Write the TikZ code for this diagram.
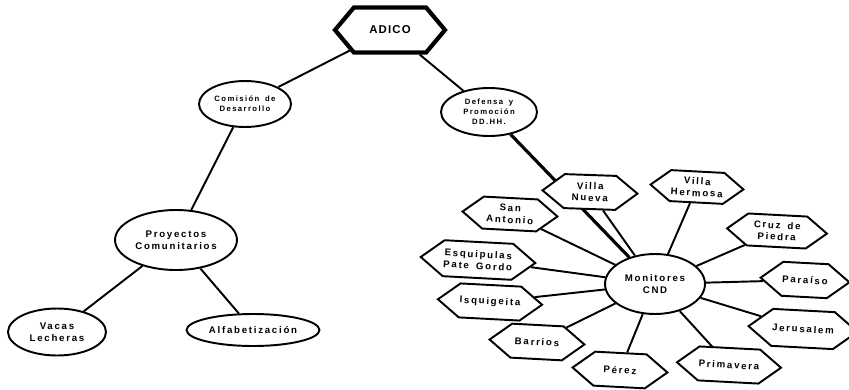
\documentclass[tikz,border=0pt]{standalone}
\usepackage{fontspec}
\newfontfamily\lblfont[LetterSpace=18,WordSpace=1.6]{Liberation Sans}
\newfontfamily\topfont[LetterSpace=10]{Liberation Sans}
\usepackage{tikz}
\usetikzlibrary{shapes.geometric,shapes.symbols,backgrounds}

\begin{document}
\begin{tikzpicture}[
    x=0.02cm, y=-0.02cm,
    every node/.style={align=center, inner sep=0pt},
    lbl/.style={font=\lblfont\bfseries\fontsize{5.5}{6.6}\selectfont},
    small/.style={font=\lblfont\bfseries\fontsize{4.4}{5.6}\selectfont},
    unit/.style={ellipse, draw, fill=white, line width=1.1pt, inner sep=-5pt, lbl},
    site/.style={signal, signal to=west and east, signal pointer angle=76, draw, fill=white, line width=1.1pt, minimum height=0.68cm, minimum width=1.9cm, rotate=-3, lbl},
    top/.style={signal, signal to=west and east, signal pointer angle=100, draw, fill=white, line width=2.4pt, minimum height=0.9cm, minimum width=2.2cm, font=\topfont\bfseries\fontsize{6.5}{8}\selectfont},
    link/.style={line width=1.1pt},
    trunk/.style={line width=1.8pt}
]
    \useasboundingbox (0,0) rectangle (849,389);

    \node[top] (adico) at (390,30) {ADICO};

    \node[unit, small, minimum width=1.84cm, minimum height=0.92cm] (comision) at (245,104) {Comisión de\\Desarrollo};
    \node[unit, small, minimum width=1.92cm, minimum height=0.96cm] (defensa) at (489,112) {Defensa y\\Promoción\\DD.HH.};

    \node[unit, minimum width=2.44cm, minimum height=1.2cm] (proyectos) at (176,240) {Proyectos\\Comunitarios};
    \node[unit, minimum width=1.96cm, minimum height=0.94cm] (vacas) at (57,332) {Vacas\\Lecheras};
    \node[unit, minimum width=2.66cm, minimum height=0.64cm] (alfa) at (253,330) {Alfabetización};

    \node[unit, minimum width=2cm, minimum height=1.2cm] (monitores) at (655,284) {Monitores\\CND};

    \node[site, rotate=1] (vnueva) at (590,192) {Villa\\Nueva};
    \node[site, minimum width=1.86cm, minimum height=0.62cm] (vhermosa) at (697,187) {Villa\\Hermosa};
    \node[site, minimum height=0.64cm] (santonio) at (510,214) {San\\Antonio};
    \node[site, minimum width=2cm, minimum height=0.64cm] (cruz) at (777,231) {Cruz de\\Piedra};
    \node[site, minimum width=2.2cm, minimum height=0.72cm] (esquipulas) at (478,260) {Esquipulas\\Pate Gordo};
    \node[site] (isquigeita) at (490,302) {Isquigeita};
    \node[site] (barrios) at (537,342) {Barrios};
    \node[site] (perez) at (620,370) {Pérez};
    \node[site, minimum width=2.04cm] (primavera) at (729,365) {Primavera};
    \node[site, minimum width=1.82cm, minimum height=0.74cm] (jerusalem) at (803,329) {Jerusalem};
    \node[site, minimum width=1.72cm] (paraiso) at (805,280) {Paraíso};

    \draw[link] (adico) -- (comision);
    \draw[link] (adico) -- (defensa);
    \draw[link] (comision) -- (proyectos);
    \draw[link] (proyectos) -- (vacas);
    \draw[link] (proyectos) -- (alfa);

    \begin{scope}[on background layer]
        \draw[trunk] (defensa) -- (monitores);
    \end{scope}

    \foreach \s in {vnueva,vhermosa,santonio,cruz,esquipulas,isquigeita,barrios,perez,primavera,jerusalem,paraiso}
        \draw[link] (monitores) -- (\s);
\end{tikzpicture}
\end{document}
